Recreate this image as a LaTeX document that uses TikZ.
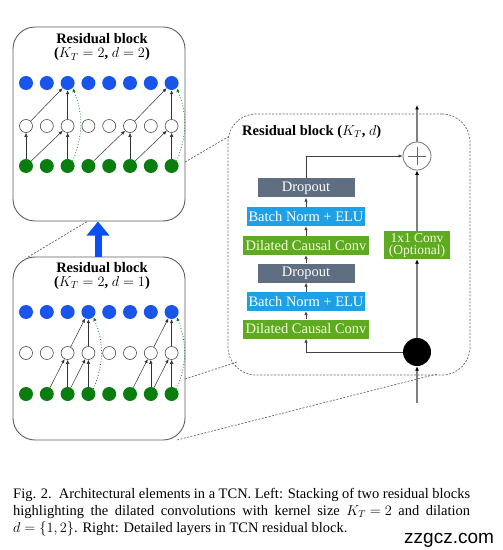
\documentclass[tikz,border=0pt]{standalone}
\usepackage{fontspec}
\setmainfont{Liberation Serif}
\newfontfamily\wmfont{Liberation Sans}
\usetikzlibrary{arrows.meta,calc}
\definecolor{nodeblue}{RGB}{25,85,235}
\definecolor{nodegreen}{RGB}{10,125,15}
\definecolor{dropgray}{RGB}{95,110,128}
\definecolor{bnblue}{RGB}{30,160,230}
\definecolor{convgreen}{RGB}{95,170,35}
\definecolor{convtext}{RGB}{245,255,215}
\definecolor{boxgray}{RGB}{95,95,95}
\definecolor{arrowblue}{RGB}{10,80,240}
\begin{document}
\begin{tikzpicture}[x=1bp,y=-1bp,
  lbox/.style={draw=boxgray, line width=0.9bp, rounded corners=22bp, fill=white, inner sep=0},
  bcirc/.style={circle, fill=nodeblue, minimum size=14bp, inner sep=0},
  wcirc/.style={circle, draw=black!70, fill=white, minimum size=13bp, inner sep=0, line width=0.6bp},
  gcirc/.style={circle, fill=nodegreen, minimum size=14bp, inner sep=0},
  conn/.style={-{Latex[length=4bp,width=3.5bp]}, line width=0.5bp, black!80},
  skipc/.style={-{Latex[length=4bp,width=3.5bp]}, dotted, line width=0.8bp, nodegreen},
  title/.style={inner sep=0, font=\fontsize{14.5bp}{14.5bp}\selectfont\bfseries},
  layer/.style={minimum height=19bp, inner sep=0, font=\fontsize{14.5bp}{14.5bp}\selectfont},
  flow/.style={-{Latex[length=4bp,width=3.5bp]}, line width=0.7bp, black!75},
  skipflow/.style={-{Latex[length=4.5bp,width=4bp,color=black]}, line width=1.3bp, black!50},
  dotline/.style={draw=black!60, line width=0.7bp, dash pattern=on 2bp off 1.5bp},
  captext/.style={anchor=base west, inner sep=0, font=\fontsize{14.5bp}{17bp}\selectfont}
]
\useasboundingbox (0,0) rectangle (503,550);

% ---------- left boxes ----------
\node[lbox, minimum width=172bp, minimum height=194bp] (topbox) at (99,124) {};
\node[lbox, minimum width=172bp, minimum height=183bp] (lowbox) at (99,348.5) {};

\node[title, anchor=base] (tt1) at (102,44) {Residual block};
\node[title, anchor=base] (tt2) at (102,58) {($K_T=2$, $d=2$)};
\node[title, anchor=base] (lt1) at (102,272) {Residual block};
\node[title, anchor=base] (lt2) at (102,286) {($K_T=2$, $d=1$)};

\foreach \i in {0,...,7} {
  \pgfmathsetmacro\xx{26+20.8*\i}
  \node[bcirc] (tb\i) at (\xx,83) {};
  \node[wcirc] (tw\i) at (\xx,126) {};
  \node[gcirc] (tg\i) at (\xx,166) {};
  \node[bcirc] (lb\i) at (\xx,312) {};
  \node[wcirc] (lw\i) at (\xx,353) {};
  \node[gcirc] (lg\i) at (\xx,394) {};
}

% top box, d=2
\foreach \a/\b in {tg0/tw0, tg0/tw2, tg2/tw2, tg3/tw5, tg5/tw5, tg5/tw7, tg7/tw7,
                   tw0/tb2, tw2/tb2, tw5/tb7, tw7/tb7}
  \draw[conn] (\a) -- (\b);
\draw[skipc] (tg2.north east) to[bend right=22] (tb2.south east);
\draw[skipc] (tg7.north east) to[bend right=22] (tb7.south east);

% lower box, d=1
\foreach \a/\b in {lg1/lw2, lg2/lw2, lg2/lw3, lg3/lw3, lg5/lw6, lg6/lw6, lg6/lw7, lg7/lw7,
                   lw2/lb3, lw3/lb3, lw6/lb7, lw7/lb7}
  \draw[conn] (\a) -- (\b);
\draw[skipc] (lg3.north east) to[bend right=22] (lb3.south east);
\draw[skipc] (lg7.north east) to[bend right=22] (lb7.south east);

% blue arrow between blocks
\draw[arrowblue, line width=7bp, -{Triangle[width=22bp,length=14bp]}] (98,257) -- (98,221.5);

% ---------- right detail box ----------
\node[dotline, rounded corners=28bp, minimum width=242bp, minimum height=261bp, inner sep=0] (rbox) at (349,244.5) {};
\node[anchor=west, inner sep=0, font=\fontsize{14.5bp}{14.5bp}\selectfont\bfseries] (rtitle) at (242,132) {Residual block ($K_T$, $d$)};

\node[layer, fill=dropgray, text=white, minimum width=97bp] (drop1) at (306,188) {Dropout};
\node[layer, fill=bnblue, text=white, minimum width=118bp] (bn1) at (306,216.5) {Batch Norm + ELU};
\node[layer, fill=convgreen, text=convtext, minimum width=126bp] (dcc1) at (306,245.5) {Dilated Causal Conv};
\node[layer, fill=dropgray, text=white, minimum width=97bp] (drop2) at (306,273) {Dropout};
\node[layer, fill=bnblue, text=white, minimum width=118bp] (bn2) at (306,301.5) {Batch Norm + ELU};
\node[layer, fill=convgreen, text=convtext, minimum width=126bp] (dcc2) at (306,329) {Dilated Causal Conv};
\node[fill=convgreen, text=convtext, minimum width=66bp, minimum height=28bp, inner sep=0, align=center,
      font=\fontsize{13.5bp}{12bp}\selectfont] (conv) at (417,245) {1x1 Conv\\(Optional)};

\node[circle, draw=black!55, fill=white, line width=0.8bp, minimum size=28bp, inner sep=0] (plus) at (417,156) {};
\draw[black!60, line width=0.8bp] ($(plus.center)+(-9,0)$) -- ($(plus.center)+(9,0)$)
                                   ($(plus.center)+(0,-9)$) -- ($(plus.center)+(0,9)$);
\node[circle, fill=black, minimum size=28bp, inner sep=0] (dot) at (417,352) {};
\coordinate (outp) at (417,105);
\coordinate (inp) at (417,403);

\draw[flow] (dcc1) -- (bn1);
\draw[flow] (bn1) -- (drop1);
\draw[flow] (drop2) -- (dcc1);
\draw[flow] (bn2) -- (drop2);
\draw[flow] (dcc2) -- (bn2);
\draw[flow] (drop1.north) |- (plus.west);
\draw[flow] (dot.west) -| (dcc2.south);
\draw[skipflow] (inp) -- (dot.south);
\draw[skipflow] (dot.north) -- (conv.south);
\draw[skipflow] (conv.north) -- (plus.south);
\draw[skipflow] (plus.north) -- (outp);

% ---------- zoom lines ----------
\coordinate (z1a) at (185,162); \coordinate (z1b) at (228,137);
\coordinate (z2a) at (185,379); \coordinate (z2b) at (237,362);
\coordinate (z3a) at (177,440); \coordinate (z3b) at (437,374);
\coordinate (z4a) at (28,257);  \coordinate (z4b) at (88,221);
\draw[dotline] (z1a) -- (z1b);
\draw[dotline] (z2a) -- (z2b);
\draw[dotline] (z3a) -- (z3b);
\draw[dotline] (z4a) -- (z4b);

% ---------- caption ----------
\node[captext] (cap1) at (13,498) {\makebox[457bp][s]{Fig. 2.\ \ Architectural elements in a TCN. Left: Stacking of two residual blocks}};
\node[captext] (cap2) at (13,515) {\makebox[457bp][s]{highlighting the dilated convolutions with kernel size \mbox{$K_T = 2$} and dilation}};
\node[captext] (cap3) at (13,532) {$d = \{1, 2\}$. Right: Detailed layers in TCN residual block.};
\node[anchor=base west, inner sep=0, font=\wmfont\fontsize{19bp}{19bp}\selectfont] (wm) at (404,543) {zzgcz.com};
\end{tikzpicture}
\end{document}
